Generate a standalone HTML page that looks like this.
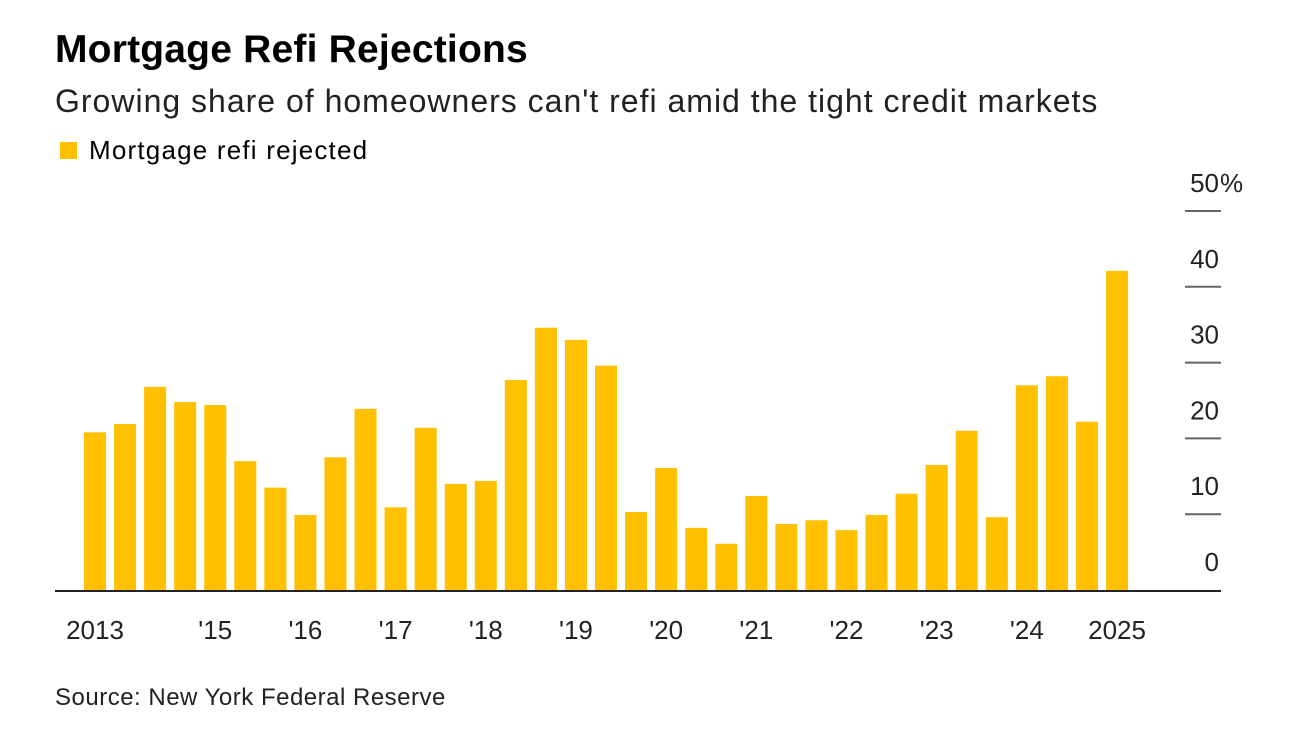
<!DOCTYPE html>
<html><head><meta charset="utf-8"><style>
body{margin:0;background:#fff;width:1292px;height:733px;overflow:hidden;font-family:"Liberation Sans",Arial,sans-serif;color:#000}
.t{position:absolute;white-space:nowrap}
</style></head><body>
<div class="t" style="left:55px;top:28px;font-size:39px;font-weight:bold;letter-spacing:0.2px">Mortgage Refi Rejections</div>
<div class="t" style="left:55px;top:83px;font-size:32px;color:#222;letter-spacing:1px">Growing share of homeowners can't refi amid the tight credit markets</div>
<div class="t" style="left:60px;top:135px;font-size:26px;letter-spacing:1.2px"><span style="display:inline-block;width:17px;height:17px;background:#FFC000;margin-right:12px;vertical-align:0px"></span>Mortgage refi rejected</div>
<div class="t" style="left:55px;top:684px;font-size:24px;color:#222;letter-spacing:0.5px">Source: New York Federal Reserve</div>
<svg id="c" width="1292" height="733" style="position:absolute;left:0;top:0"></svg>
<script>
const values=[20.8,21.9,26.8,24.8,24.4,17.0,13.5,9.9,17.5,23.9,10.9,21.4,14.0,14.4,27.7,34.6,33.0,29.6,10.3,16.1,8.2,6.1,12.4,8.7,9.2,7.9,9.9,12.7,16.5,21.0,9.6,27.0,28.2,22.2,42.1];
const xLabelIdx=[0,4,7,10,13,16,19,22,25,28,31,34];
const xLabels=["2013","'15","'16","'17","'18","'19","'20","'21","'22","'23","'24","2025"];
const yTicks=[0,10,20,30,40,50];
const svg=document.getElementById('c');
const NS='http://www.w3.org/2000/svg';
const y0=590,y1=211,vmax=50;
const ys=v=>y0-(v/vmax)*(y0-y1);
const x0=95,step=30.06,bw=22;
const xs=i=>x0+i*step;
function mk(t,a){const e=document.createElementNS(NS,t);for(const k in a)e.setAttribute(k,a[k]);svg.appendChild(e);return e;}
yTicks.forEach(v=>{
  if(v>0){const l=mk('line',{x1:1185,x2:1221,y1:ys(v),y2:ys(v),stroke:'#666','stroke-width':2});
  
  }
  const t=mk('text',{x:1219,y:ys(v)-19,'text-anchor':'end','font-size':26,fill:'#222','font-family':'Liberation Sans, sans-serif'});
  t.textContent=String(v);
  
  
  if(v===50){const p=mk('text',{x:1220,y:ys(v)-19,'font-size':26,fill:'#222','font-family':'Liberation Sans, sans-serif'});p.textContent='%';
  
  }
});
values.forEach((v,i)=>{
  const r=mk('rect',{x:xs(i)-bw/2,y:ys(v),width:bw,height:y0-ys(v),fill:'#FFC000'});
  
  
});
const base=mk('line',{x1:55,x2:1221,y1:y0+1,y2:y0+1,stroke:'#222','stroke-width':2});


xLabelIdx.forEach((idx,k)=>{
  const t=mk('text',{x:xs(idx),y:639,'text-anchor':'middle','font-size':26,fill:'#222','font-family':'Liberation Sans, sans-serif'});
  t.textContent=xLabels[k];
  
  
});
</script>
</body></html>
